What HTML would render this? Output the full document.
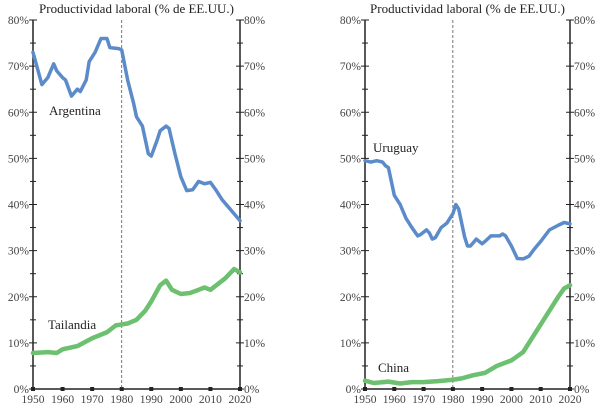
<!DOCTYPE html>
<html><head><meta charset="utf-8"><style>
body{margin:0;background:#fff}
svg{display:block;font-family:"Liberation Serif",serif}
</style></head><body>
<svg id="c" width="600" height="406" xmlns="http://www.w3.org/2000/svg"></svg>
<script>
const argYears=[1950,1953,1955,1957,1958,1960,1961,1963,1965,1966,1968,1969,1971,1973,1975,1976,1979,1980,1982,1984,1985,1987,1989,1990,1992,1993,1995,1996,1998,2000,2002,2004,2006,2008,2010,2012,2014,2016,2018,2020];
const argVals=[73,66,67.5,70.5,69,67.5,67,63.5,65,64.5,67,71,73,76,76,74,73.8,73.5,67,62,59,57,51,50.5,54,56,57,56.5,51,46,43,43.2,45,44.5,44.8,43,41,39.5,38,36.5];
const thaYears=[1950,1955,1958,1960,1965,1970,1975,1978,1980,1982,1985,1988,1990,1993,1995,1997,2000,2003,2006,2008,2010,2012,2015,2018,2020];
const thaVals=[7.8,8,7.8,8.6,9.3,11,12.3,13.8,14,14.2,15,17,19,22.5,23.5,21.5,20.6,20.8,21.5,22,21.5,22.5,24,26,25.3];
const uruYears=[1950,1952,1954,1956,1957,1958,1960,1962,1964,1966,1968,1969,1971,1972,1973,1974,1976,1978,1980,1981,1982,1983,1984,1985,1986,1988,1990,1991,1993,1996,1997,1998,2000,2002,2004,2006,2008,2010,2013,2016,2018,2020];
const uruVals=[49.5,49.2,49.5,49.2,48.4,48,42,40,37,35,33.2,33.5,34.5,33.8,32.5,32.8,35,36,38,40,39,36,33,31,31,32.5,31.5,32,33.2,33.2,33.6,33.2,31,28.3,28.2,28.8,30.5,32,34.5,35.5,36.1,35.8];
const chnYears=[1950,1953,1958,1962,1966,1970,1975,1980,1983,1987,1991,1995,2000,2004,2007,2010,2013,2016,2018,2020];
const chnVals=[1.8,1.3,1.6,1.2,1.5,1.5,1.7,2.0,2.3,3,3.5,5,6.2,8,11,14,17,20,21.8,22.5];
const yTicks=[0,10,20,30,40,50,60,70,80];
const xTicks=[1950,1960,1970,1980,1990,2000,2010,2020];
const NS="http://www.w3.org/2000/svg",svg=document.getElementById('c');
function mk(t,a,p){const e=document.createElementNS(NS,t);for(const k in a)e.setAttribute(k,a[k]);(p||svg).appendChild(e);return e;}
const yTop=20,yBot=389;
function y(v){return yBot-(v/80)*(yBot-yTop);}
function panel(x0,x1,title,series,labels,pn){
  const g=mk('g',{});
  
  
  const X=yr=>x0+(yr-1950)/70*(x1-x0);
  const t=mk('text',{x:(x0+x1)/2,y:13,'text-anchor':'middle','font-size':13,fill:'#222'},g);t.textContent=title;
  
  for(let v=0;v<=80;v+=5){const L=v%10===0?4:3;
    mk('line',{x1:x0-L,x2:x0+L,y1:y(v),y2:y(v),stroke:'#222','stroke-width':1},g);
    mk('line',{x1:x1-L,x2:x1+L,y1:y(v),y2:y(v),stroke:'#222','stroke-width':1},g);}
  yTicks.forEach(v=>{
    const a=mk('text',{x:x0-4,y:y(v)+4,'text-anchor':'end','font-size':11.5,fill:'#444'},g);a.textContent=v+'%';
    
    const b=mk('text',{x:x1+4,y:y(v)+4,'font-size':11.5,fill:'#444'},g);b.textContent=v+'%';
    });
  xTicks.forEach(yr=>{
    mk('rect',{x:X(yr)-2,y:yBot-2,width:4,height:4,fill:'#222'},g);
    const a=mk('text',{x:X(yr),y:yBot+14,'text-anchor':'middle','font-size':11.5,fill:'#444'},g);a.textContent=yr;
    });
  mk('line',{x1:X(1980),x2:X(1980),y1:yTop,y2:yBot,stroke:'#555','stroke-width':0.8,'stroke-dasharray':'3,2'},g);
  mk('line',{x1:x0,x2:x0,y1:yTop,y2:yBot,stroke:'#222','stroke-width':1.5},g);
  mk('line',{x1:x1,x2:x1,y1:yTop,y2:yBot,stroke:'#222','stroke-width':1.5},g);
  mk('line',{x1:x0,x2:x1,y1:yBot,y2:yBot,stroke:'#222','stroke-width':1.5},g);
  series.forEach(s=>{
    const p=mk('polyline',{points:s.ys.map((yr,i)=>X(yr)+','+y(s.vs[i])).join(' '),fill:'none',stroke:s.c,'stroke-width':s.w,'stroke-linejoin':'round','stroke-linecap':'round'},g);
    });
  labels.forEach(l=>{const t=mk('text',{x:l.x,y:l.y,'font-size':13,fill:'#222'},g);t.textContent=l.t;
    });
}
panel(33,240,'Productividad laboral (% de EE.UU.)',
 [{ys:argYears,vs:argVals,c:'#5b8bc9',w:3.5,n:'argentina'},{ys:thaYears,vs:thaVals,c:'#6cc070',w:4.5,n:'tailandia'}],
 [{x:49,y:115,t:'Argentina',n:'argentina-label'},{x:48,y:329,t:'Tailandia',n:'tailandia-label'}],'left');
panel(365,570,'Productividad laboral (% de EE.UU.)',
 [{ys:uruYears,vs:uruVals,c:'#5b8bc9',w:3.5,n:'uruguay'},{ys:chnYears,vs:chnVals,c:'#6cc070',w:4.5,n:'china'}],
 [{x:373,y:152,t:'Uruguay',n:'uruguay-label'},{x:378,y:372,t:'China',n:'china-label'}],'right');
</script>
</body></html>
